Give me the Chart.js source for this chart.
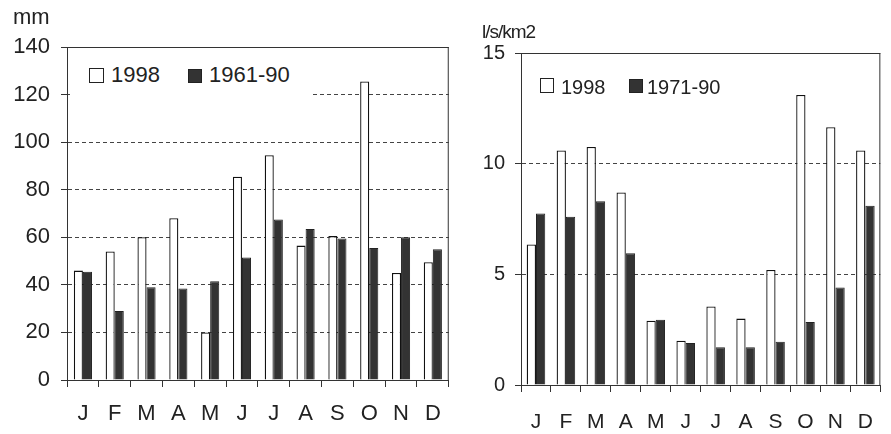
<!DOCTYPE html>
<html>
<head>
<meta charset="utf-8">
<script src="https://cdn.jsdelivr.net/npm/chart.js@4.4.0/dist/chart.umd.min.js"></script>
<style>
  body { margin: 0; background: #fff; width: 891px; height: 434px; overflow: hidden; position: relative;
         font-family: 'Liberation Sans', Arial, sans-serif; color: #222; }
  canvas { position: absolute; top: 0; display: block; }
  .txt { position: absolute; line-height: 1; white-space: nowrap; }
  .box { position: absolute; background: #fff; }
  .sw { position: absolute; box-sizing: border-box; border: 1px solid #222; }
</style>
</head>
<body>
<canvas id="precipChart" width="455" height="434" style="left:0"></canvas>
<canvas id="runoffChart" width="436" height="434" style="left:455px"></canvas>

<div class="txt" style="left:13px;top:6px;font-size:22px">mm</div>
<div class="box" style="left:70px;top:62px;width:240px;height:38px"></div>
<div class="sw" style="left:89px;top:68px;width:15px;height:15px;background:#fff"></div>
<div class="txt" style="left:111px;top:64px;font-size:22px">1998</div>
<div class="sw" style="left:188px;top:69px;width:14px;height:14px;background:#333"></div>
<div class="txt" style="left:209px;top:64px;font-size:22px">1961-90</div>

<div class="txt" style="left:482px;top:22px;font-size:19px;letter-spacing:-1px">l/s/km2</div>
<div class="sw" style="left:540px;top:78px;width:14px;height:15px;background:#fff"></div>
<div class="txt" style="left:561px;top:77px;font-size:20px">1998</div>
<div class="sw" style="left:629px;top:79px;width:14px;height:14px;background:#333"></div>
<div class="txt" style="left:647px;top:77px;font-size:20px">1971-90</div>

<script>
const months = ['J', 'F', 'M', 'A', 'M', 'J', 'J', 'A', 'S', 'O', 'N', 'D'];

// Precipitation (mm)
const precip1998 = [46, 54, 60, 68, 20, 85.5, 94.5, 56.5, 60.5, 125.5, 45, 49.5];
const precipNormal = [45.5, 29, 39, 38.5, 41.5, 51.5, 67.5, 63.5, 59.5, 55.5, 60, 55];

// Runoff (l/s/km2)
const runoff1998 = [6.35, 10.6, 10.75, 8.7, 2.9, 2.0, 3.55, 3.0, 5.2, 13.1, 11.65, 10.6];
const runoffNormal = [7.75, 7.6, 8.3, 5.95, 2.95, 1.9, 1.7, 1.7, 1.95, 2.85, 4.4, 8.1];

Chart.defaults.font.family = "'Liberation Sans', Arial, sans-serif";
Chart.defaults.color = '#222';

// solid top and right frame lines
const framePlugin = {
  id: 'frame',
  afterDraw(chart) {
    const { ctx, chartArea: a } = chart;
    ctx.save();
    ctx.strokeStyle = '#333';
    ctx.lineWidth = 1;
    ctx.beginPath();
    ctx.moveTo(a.left, a.top + 0.5);
    ctx.lineTo(a.right, a.top + 0.5);
    ctx.moveTo(a.right - 0.5, a.top);
    ctx.lineTo(a.right - 0.5, a.bottom);
    ctx.stroke();
    ctx.restore();
  }
};

function makeChart(id, s) {
  return new Chart(document.getElementById(id), {
    type: 'bar',
    data: {
      labels: months,
      datasets: [
        { label: '1998', data: s.a, backgroundColor: '#fff', borderColor: '#111', borderWidth: 1.3,
          categoryPercentage: s.cat, barPercentage: 1 },
        { label: s.normLabel, data: s.b, backgroundColor: '#333', borderColor: '#222', borderWidth: 1,
          categoryPercentage: s.cat, barPercentage: 1 }
      ]
    },
    options: {
      responsive: false,
      animation: false,
      layout: { padding: { top: s.top, right: s.right, left: 0, bottom: 0 } },
      plugins: { legend: { display: false }, tooltip: { enabled: false } },
      scales: {
        x: {
          offset: true,
          afterFit: (sc) => { sc.height = s.xHeight; },
          grid: { offset: true, drawOnChartArea: false, drawTicks: true, tickLength: 7, tickColor: '#333' },
          border: { display: true, color: '#333' },
          ticks: { font: { size: s.xFont }, padding: s.xPad, color: '#222' }
        },
        y: {
          min: 0,
          max: s.max,
          afterFit: (sc) => { sc.width = s.yWidth; },
          grid: {
            color: (c) => (c.tick.value === 0 || c.tick.value === s.max) ? 'rgba(0,0,0,0)' : '#444',
            tickColor: '#333',
            tickLength: 6
          },
          border: { display: true, color: '#333', dash: [4, 3] },
          ticks: { stepSize: s.step, font: { size: s.yFont }, padding: s.yPad, color: '#222' }
        }
      }
    },
    plugins: [framePlugin]
  });
}

makeChart('precipChart', {
  a: precip1998, b: precipNormal, normLabel: '1961-90',
  max: 140, step: 20, cat: 0.57,
  top: 47, right: 5, xHeight: 54, yWidth: 67,
  xFont: 22, xPad: 14, yFont: 22, yPad: 11
});

makeChart('runoffChart', {
  a: runoff1998, b: runoffNormal, normLabel: '1971-90',
  max: 15, step: 5, cat: 0.62,
  top: 53, right: 1, xHeight: 49, yWidth: 66,
  xFont: 21, xPad: 18, yFont: 20, yPad: 10
});
</script>
</body>
</html>
